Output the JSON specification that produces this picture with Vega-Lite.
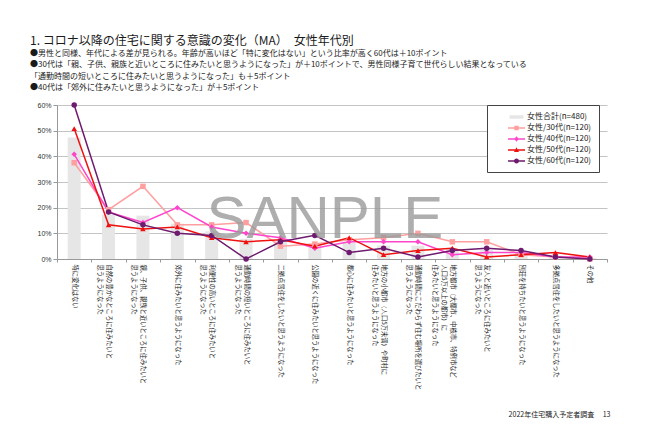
{
  "$schema": "https://vega.github.io/schema/vega-lite/v6.json",
  "width": 550,
  "height": 154,
  "autosize": "none",
  "padding": {"left": 57, "top": 105, "right": 43, "bottom": 178},
  "background": "white",
  "title": {
    "text": "1. コロナ以降の住宅に関する意識の変化（MA）　女性年代別",
    "subtitle": [
      "●男性と同様、年代による差が見られる。年齢が高いほど「特に変化はない」という比率が高く60代は＋10ポイント",
      "●30代は「親、子供、親族と近いところに住みたいと思うようになった」が＋10ポイントで、男性同様子育て世代らしい結果となっている",
      "「通勤時間の短いところに住みたいと思うようになった」も＋5ポイント",
      "●40代は「郊外に住みたいと思うようになった」が＋5ポイント"
    ],
    "anchor": "start",
    "frame": "group",
    "dx": -27,
    "offset": 8,
    "fontSize": 12,
    "fontWeight": "normal",
    "color": "#1a1a1a",
    "subtitleFontSize": 8,
    "subtitleColor": "#1a1a1a",
    "subtitleLineHeight": 11.5,
    "subtitlePadding": 2
  },
  "data": {
    "values": [
      {"category": "特に変化はない", "女性合計(n=480)": 47.3, "女性/30代(n=120)": 37.5, "女性/40代(n=120)": 40.8, "女性/50代(n=120)": 50.8, "女性/60代(n=120)": 60.0},
      {"category": "自然の豊かなところに住みたいと\n思うようになった", "女性合計(n=480)": 17.3, "女性/30代(n=120)": 19.2, "女性/40代(n=120)": 18.3, "女性/50代(n=120)": 13.3, "女性/60代(n=120)": 18.3},
      {"category": "親、子供、親族と近いところに住みたいと\n思うようになった", "女性合計(n=480)": 16.9, "女性/30代(n=120)": 28.3, "女性/40代(n=120)": 14.2, "女性/50代(n=120)": 11.7, "女性/60代(n=120)": 13.3},
      {"category": "郊外に住みたいと思うようになった", "女性合計(n=480)": 13.8, "女性/30代(n=120)": 13.3, "女性/40代(n=120)": 20.0, "女性/50代(n=120)": 12.5, "女性/60代(n=120)": 10.0},
      {"category": "利便性の高いところに住みたいと\n思うようになった", "女性合計(n=480)": 10.8, "女性/30代(n=120)": 13.3, "女性/40代(n=120)": 12.5, "女性/50代(n=120)": 8.3, "女性/60代(n=120)": 9.2},
      {"category": "通勤時間の短いところに住みたいと\n思うようになった", "女性合計(n=480)": 7.9, "女性/30代(n=120)": 14.2, "女性/40代(n=120)": 10.0, "女性/50代(n=120)": 6.7, "女性/60代(n=120)": 0.0},
      {"category": "二拠点居住をしたいと思うようになった", "女性合計(n=480)": 6.9, "女性/30代(n=120)": 5.0, "女性/40代(n=120)": 8.3, "女性/50代(n=120)": 7.5, "女性/60代(n=120)": 6.7},
      {"category": "公園の近くに住みたいと思うようになった", "女性合計(n=480)": 6.0, "女性/30代(n=120)": 5.8, "女性/40代(n=120)": 4.2, "女性/50代(n=120)": 5.0, "女性/60代(n=120)": 9.2},
      {"category": "都心に住みたいと思うようになった", "女性合計(n=480)": 6.3, "女性/30代(n=120)": 7.5, "女性/40代(n=120)": 6.7, "女性/50代(n=120)": 8.3, "女性/60代(n=120)": 2.5},
      {"category": "地方の小都市（人口5万未満）や町村に\n住みたいと思うようになった", "女性合計(n=480)": 5.2, "女性/30代(n=120)": 8.3, "女性/40代(n=120)": 6.7, "女性/50代(n=120)": 1.7, "女性/60代(n=120)": 4.2},
      {"category": "通勤時間にこだわらず住む場所を選びたいと\n思うようになった", "女性合計(n=480)": 5.2, "女性/30代(n=120)": 10.0, "女性/40代(n=120)": 6.7, "女性/50代(n=120)": 3.3, "女性/60代(n=120)": 0.8},
      {"category": "地方都市（大都市、中核市、特例市など\n人口5万以上の都市）に\n住みたいと思うようになった", "女性合計(n=480)": 4.0, "女性/30代(n=120)": 6.7, "女性/40代(n=120)": 1.7, "女性/50代(n=120)": 4.2, "女性/60代(n=120)": 3.3},
      {"category": "友人と近いところに住みたいと\n思うようになった", "女性合計(n=480)": 3.5, "女性/30代(n=120)": 6.7, "女性/40代(n=120)": 2.5, "女性/50代(n=120)": 0.8, "女性/60代(n=120)": 4.2},
      {"category": "別荘を持ちたいと思うようになった", "女性合計(n=480)": 2.3, "女性/30代(n=120)": 1.7, "女性/40代(n=120)": 2.5, "女性/50代(n=120)": 1.7, "女性/60代(n=120)": 3.3},
      {"category": "多拠点居住をしたいと思うようになった", "女性合計(n=480)": 1.3, "女性/30代(n=120)": 0.8, "女性/40代(n=120)": 0.8, "女性/50代(n=120)": 2.5, "女性/60代(n=120)": 0.8},
      {"category": "その他", "女性合計(n=480)": 0.4, "女性/30代(n=120)": 0.0, "女性/40代(n=120)": 0.8, "女性/50代(n=120)": 0.8, "女性/60代(n=120)": 0.0}
    ]
  },
  "transform": [
    {"fold": ["女性合計(n=480)", "女性/30代(n=120)", "女性/40代(n=120)", "女性/50代(n=120)", "女性/60代(n=120)"], "as": ["series", "value"]}
  ],
  "encoding": {
    "x": {
      "field": "category",
      "type": "nominal",
      "scale": {
        "domain": [
          "特に変化はない",
          "自然の豊かなところに住みたいと\n思うようになった",
          "親、子供、親族と近いところに住みたいと\n思うようになった",
          "郊外に住みたいと思うようになった",
          "利便性の高いところに住みたいと\n思うようになった",
          "通勤時間の短いところに住みたいと\n思うようになった",
          "二拠点居住をしたいと思うようになった",
          "公園の近くに住みたいと思うようになった",
          "都心に住みたいと思うようになった",
          "地方の小都市（人口5万未満）や町村に\n住みたいと思うようになった",
          "通勤時間にこだわらず住む場所を選びたいと\n思うようになった",
          "地方都市（大都市、中核市、特例市など\n人口5万以上の都市）に\n住みたいと思うようになった",
          "友人と近いところに住みたいと\n思うようになった",
          "別荘を持ちたいと思うようになった",
          "多拠点居住をしたいと思うようになった",
          "その他"
        ],
        "paddingInner": 0,
        "paddingOuter": 0
      },
      "axis": {
        "title": "2022年住宅購入予定者調査　 13",
        "titleX": 553,
        "titleY": 155,
        "titleAlign": "right",
        "titleBaseline": "middle",
        "titleFontSize": 7,
        "titleFontWeight": "normal",
        "titleColor": "#222",
        "labelAngle": 90,
        "labelFontSize": 6.3,
        "labelLineHeight": 9,
        "labelExpr": "split(datum.label, '\\n')",
        "labelOverlap": false,
        "labelLimit": 300,
        "labelPadding": 2,
        "labelColor": "#222",
        "tickBand": "extent",
        "tickSize": 3,
        "tickColor": "#999",
        "domainColor": "#999",
        "grid": false
      }
    },
    "y": {
      "field": "value",
      "type": "quantitative",
      "scale": {"domain": [0, 60]},
      "axis": {
        "title": null,
        "values": [0, 10, 20, 30, 40, 50, 60],
        "labelExpr": "datum.value + '%'",
        "labelFont": "Liberation Sans",
        "labelFontSize": 7,
        "labelColor": "#333",
        "labelPadding": 2,
        "tickSize": 4,
        "tickColor": "#999",
        "domainColor": "#999",
        "gridColor": "#c4c4c4",
        "grid": true
      }
    },
    "color": {
      "field": "series",
      "type": "nominal",
      "scale": {
        "domain": ["女性合計(n=480)", "女性/30代(n=120)", "女性/40代(n=120)", "女性/50代(n=120)", "女性/60代(n=120)"],
        "range": ["#e6e6e6", "#ff9f9f", "#ff44cc", "#f01010", "#6e1a6e"]
      },
      "legend": {"title": null}
    }
  },
  "layer": [
    {
      "transform": [{"filter": "datum.series === '女性合計(n=480)'"}],
      "mark": {"type": "bar", "size": 13}
    },
    {
      "transform": [{"filter": "datum.series !== '女性合計(n=480)'"}],
      "mark": {"type": "line", "strokeWidth": 1.5}
    },
    {
      "transform": [{"filter": "datum.series !== '女性合計(n=480)'"}],
      "mark": {"type": "point", "filled": true, "size": 30, "opacity": 1},
      "encoding": {
        "shape": {
          "condition": [
            {"test": "datum.series === '女性/30代(n=120)'", "value": "square"},
            {"test": "datum.series === '女性/40代(n=120)'", "value": "diamond"},
            {"test": "datum.series === '女性/50代(n=120)'", "value": "triangle-up"}
          ],
          "value": "circle"
        }
      }
    },
    {
      "transform": [{"filter": "datum.series !== '女性合計(n=480)'"}],
      "mark": {"type": "point", "filled": true, "opacity": 0},
      "encoding": {
        "shape": {
          "field": "series",
          "type": "nominal",
          "scale": {
            "domain": ["女性合計(n=480)", "女性/30代(n=120)", "女性/40代(n=120)", "女性/50代(n=120)", "女性/60代(n=120)"],
            "range": [
              "M2.1,-0.35H4.9V0.35H2.1Z",
              "M1.8,-0.13H5.2V0.13H1.8Z M3.05,-0.45H3.95V0.45H3.05Z",
              "M1.8,-0.13H5.2V0.13H1.8Z M3.5,-0.55L3.95,0L3.5,0.55L3.05,0Z",
              "M1.8,-0.13H5.2V0.13H1.8Z M3.5,-0.55L4,0.4H3Z",
              "M1.8,-0.13H5.2V0.13H1.8Z M3,0A0.5,0.5 0 1,1 4,0A0.5,0.5 0 1,1 3,0Z"
            ]
          },
          "legend": {"title": null}
        }
      }
    },
    {
      "transform": [{"filter": "datum.category === 'その他' && datum.series === '女性合計(n=480)'"}],
      "mark": {"type": "text", "font": "Liberation Sans", "fontSize": 60, "align": "center", "baseline": "middle", "dx": 10, "opacity": 0.8},
      "encoding": {
        "x": {"datum": "公園の近くに住みたいと思うようになった"},
        "y": {"datum": 15.3},
        "text": {"value": "SANPLE"},
        "color": {"value": "#9a9a9a"}
      }
    }
  ],
  "config": {
    "font": "Noto Sans CJK JP",
    "view": {"stroke": null},
    "legend": {
      "orient": "none",
      "legendX": 430,
      "legendY": 0,
      "fillColor": "white",
      "strokeColor": "#444",
      "padding": 7,
      "symbolSize": 100,
      "symbolOpacity": 1,
      "symbolStrokeWidth": 0,
      "labelFontSize": 8,
      "labelFont": "Noto Sans CJK JP",
      "labelColor": "#222",
      "labelOffset": 23,
      "rowPadding": 2
    }
  }
}
